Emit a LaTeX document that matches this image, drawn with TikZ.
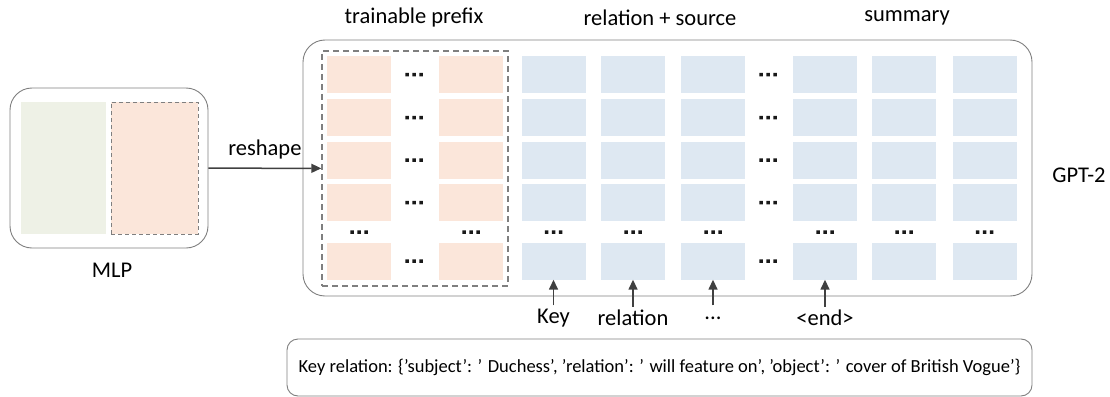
\documentclass[tikz,border=0pt]{standalone}
\usepackage{fontspec}
\setmainfont{Carlito}
\usetikzlibrary{arrows.meta}
\definecolor{peach}{HTML}{FBE6DA}
\definecolor{paleblue}{HTML}{DEE8F2}
\definecolor{palegreen}{HTML}{EEF1E6}
\definecolor{linegray}{HTML}{7F7F7F}
\definecolor{arrowgray}{HTML}{404040}
\begin{document}
\begin{tikzpicture}
          [x=1pt,y=-1pt,
          font=\fontsize{22.5}{26}\selectfont,
          box/.style={draw=linegray,rounded corners=22pt,line width=0.9pt},
          cell/.style={minimum width=64pt,minimum height=37pt,inner sep=0pt},
          prefixcell/.style={cell,fill=peach},
          tokencell/.style={cell,fill=paleblue},
          dashbox/.style={draw=linegray,dash pattern=on 6pt off 4pt,line width=1.4pt,inner sep=0pt},
          dots/.style={minimum width=18pt,minimum height=4pt,inner sep=0pt,
            path picture={\fill[black!90] ([xshift=-7pt]path picture bounding box.center) +(-1.75pt,-1.75pt) rectangle +(1.75pt,1.75pt)
              (path picture bounding box.center) +(-1.75pt,-1.75pt) rectangle +(1.75pt,1.75pt)
              ([xshift=7pt]path picture bounding box.center) +(-1.75pt,-1.75pt) rectangle +(1.75pt,1.75pt);}},
          arc/.style={-{Triangle[length=10pt,width=9pt]},line width=1.5pt,draw=arrowgray},
          edge/.style={thick}]

            \useasboundingbox (0,0) rectangle (1110,396);

            % MLP
            \node (mlp) [box,minimum width=198pt,minimum height=160pt] at (109,168) {};
            \node (mlpa) [fill=palegreen,minimum width=85pt,minimum height=132pt] at (63.5,168) {};
            \node (mlpb) [dashbox,line width=0.8pt,dash pattern=on 4pt off 3pt,fill=peach,minimum width=87pt,minimum height=132pt] at (154.5,168) {};
            \node (mlplabel) at (112,270) {MLP};

            % GPT-2
            \node (gpt) [box,minimum width=729pt,minimum height=256pt] at (667.5,168) {};
            \node (gptlabel) at (1079,175) {GPT-2};
            \node (prefix) [dashbox,minimum width=186pt,minimum height=235pt] at (415,168.5) {};

            \node (tprefix) at (414,18) {trainable prefix};
            \node (tsource) at (660,18) {relation + source};
            \node (tsummary) at (907,18) {summary};

            % cells
            \foreach \r/\y in {1/74.5,2/117.5,3/160,4/202.5,6/261} {
              \node (p1-\r) [prefixcell] at (359,\y) {};
              \node (p2-\r) [prefixcell] at (471,\y) {};
              \node [dots] at (414,\y) {};
              \node [dots] at (768,\y) {};
              \foreach \c/\x in {1/553.5,2/633,3/713,4/825,5/904,6/984.5}
                \node (s\c-\r) [tokencell] at (\x,\y) {};
            }
            \foreach \x in {359,471,553.5,633,713,825,904,984.5}
              \node [dots] at (\x,232) {};

            % inputs
            \node (key) at (553.5,318) {Key};
            \node (rel) at (633,318) {relation};
            \node (more) at (713,318) {...};
            \node (end) at (825,318) {<end>};

            \draw [arc] (key) -- (s1-6);
            \draw [arc] (rel) -- (s2-6);
            \draw [arc] (more.north |- key.north) -- (s3-6);
            \draw [arc] (end) -- (s4-6);

            \draw [arc] (mlp) -- node [above=5pt] {reshape} (prefix);

            \node (example) [box,rounded corners=11pt,minimum width=745pt,minimum height=57pt,
              font=\fontsize{18.5}{20}\selectfont] at (659.5,367.5)
              {Key relation: \{'subject': ' Duchess', 'relation': ' will feature on', 'object': ' cover of British Vogue'\}};

        \end{tikzpicture}
\end{document}
